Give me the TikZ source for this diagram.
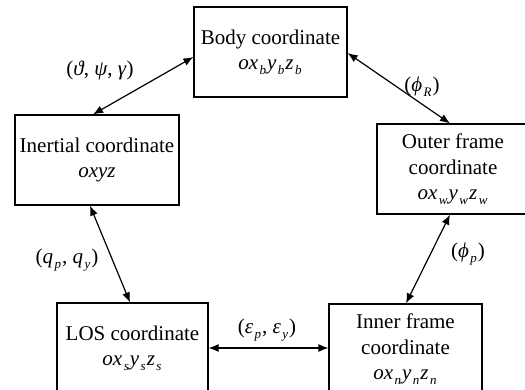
\documentclass[tikz,border=0pt]{standalone}
\usepackage{fontspec}
\setmainfont{Liberation Serif}
\usetikzlibrary{calc,arrows.meta}
\newcommand{\sbi}[1]{\/\kern1.5pt\raisebox{-0.22em}{\fontsize{13}{13}\selectfont\textit{#1}\/}\kern1pt}
\begin{document}
\begin{tikzpicture}[x=1pt,y=-1pt,
  box/.style={draw, line width=1.2pt, minimum height=90pt, align=center, inner sep=0pt, font=\fontsize{21}{25.5}\selectfont},
  lab/.style={font=\fontsize{21}{25.5}\selectfont, inner sep=0pt},
  conn/.style={line width=1.2pt, {Latex[length=10pt,width=8pt]}-{Latex[length=10pt,width=8pt]}}]
\useasboundingbox (0,0) rectangle (525,389);
\clip (0,0) rectangle (525,389);
\node[box, minimum width=153pt] (body) at (270.5,52) {Body coordinate\\\textit{ox}\sbi{b}\textit{y}\sbi{b}\textit{z}\sbi{b}};
\node[box, minimum width=164pt] (inertial) at (97,160) {Inertial coordinate\\\textit{oxyz}};
\node[box, minimum width=152pt] (outer) at (453,169) {Outer frame\\coordinate\\\textit{ox}\sbi{w}\textit{y}\sbi{w}\textit{z}\sbi{w}};
\node[box, minimum width=151pt] (los) at (132.5,348) {LOS coordinate\\\textit{ox}\sbi{s}\textit{y}\sbi{s}\textit{z}\sbi{s}};
\node[box, minimum width=153pt] (inner) at (405.5,349) {Inner frame\\coordinate\\\textit{ox}\sbi{n}\textit{y}\sbi{n}\textit{z}\sbi{n}};
\draw[conn] ($(inertial.north)+(-4,0)$) -- ($(body.west)+(0,5)$);
\draw[conn] ($(body.east)+(0,1)$) -- ($(outer.north)+(-3,0)$);
\draw[conn] ($(inertial.south)+(-7,0)$) -- ($(los.north)+(-2.5,0)$);
\draw[conn] ($(outer.south)+(-3,0)$) -- ($(inner.north)+(0.5,0)$);
\draw[conn] (los.east) -- (los.east -| inner.west);
\node[lab] (l1) at (100,70) {(\textit{ϑ}, \textit{ψ}, \textit{γ})};
\node[lab] (l2) at (422,87) {(\textit{ϕ}\sbi{R})};
\node[lab] (l3) at (67,260) {(\textit{q}\sbi{p}, \textit{q}\sbi{y})};
\node[lab] (l4) at (468,254) {(\textit{ϕ}\sbi{p})};
\node[lab] (l5) at (267,330) {(\textit{ε}\sbi{p}, \textit{ε}\sbi{y})};
\end{tikzpicture}
\end{document}
